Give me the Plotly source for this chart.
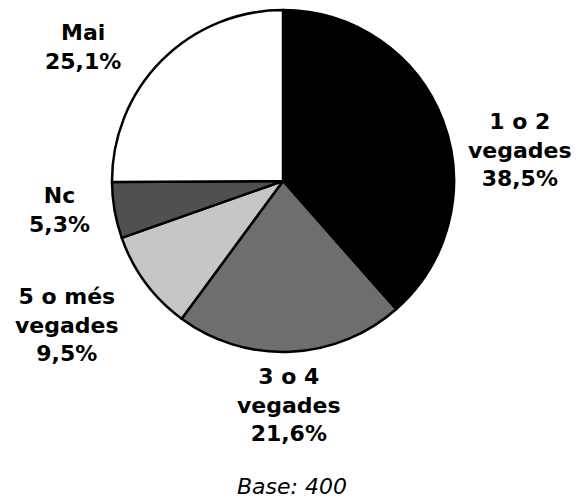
import plotly.graph_objects as go

# Data
categories = ["1 o 2 vegades", "3 o 4 vegades", "5 o més vegades", "Nc", "Mai"]
label_lines = ["1 o 2<br>vegades", "3 o 4<br>vegades", "5 o més<br>vegades", "Nc", "Mai"]
values = [38.5, 21.6, 9.5, 5.3, 25.1]
base_n = 400

# Styles / layout
W, H = 579, 500
colors = ["#000000", "#6e6e6e", "#c6c6c6", "#505050", "#ffffff"]
label_pos = [(520, 150), (289, 405), (67, 325), (59, 210), (83, 47)]  # target pixel centres
cx, cy, r = 283, 181, 171


def px(x):
    return x / W


def py(y):
    return 1 - y / H


fig = go.Figure()
fig.add_trace(go.Pie(
    labels=categories,
    values=values,
    sort=False,
    direction="clockwise",
    rotation=0,
    textinfo="none",
    hoverinfo="label+percent",
    marker=dict(colors=colors, line=dict(color="#000000", width=2.5)),
    domain=dict(x=[px(cx - r), px(cx + r)], y=[py(cy + r), py(cy - r)]),
    showlegend=False,
))

annotations = []
for lab, v, (x, y) in zip(label_lines, values, label_pos):
    txt = f"{lab}<br>{v:.1f}%".replace(".", ",")
    annotations.append(dict(
        x=px(x), y=py(y), xref="paper", yref="paper",
        xanchor="center", yanchor="middle", showarrow=False,
        text=txt, align="center",
        font=dict(family="DejaVu Sans", size=22, color="#000000", weight="bold"),
    ))
annotations.append(dict(
    x=px(292), y=py(486), xref="paper", yref="paper",
    xanchor="center", yanchor="middle", showarrow=False,
    text=f"<i>Base: {base_n}</i>",
    font=dict(family="DejaVu Sans", size=22, color="#000000"),
))

fig.update_layout(
    width=W, height=H,
    margin=dict(l=0, r=0, t=0, b=0),
    paper_bgcolor="#ffffff",
    plot_bgcolor="#ffffff",
    annotations=annotations,
)

fig.write_html(
    "out.html",
    config={"displayModeBar": False},
    post_script="document.body.style.margin='0';document.body.style.overflow='hidden';",
)
